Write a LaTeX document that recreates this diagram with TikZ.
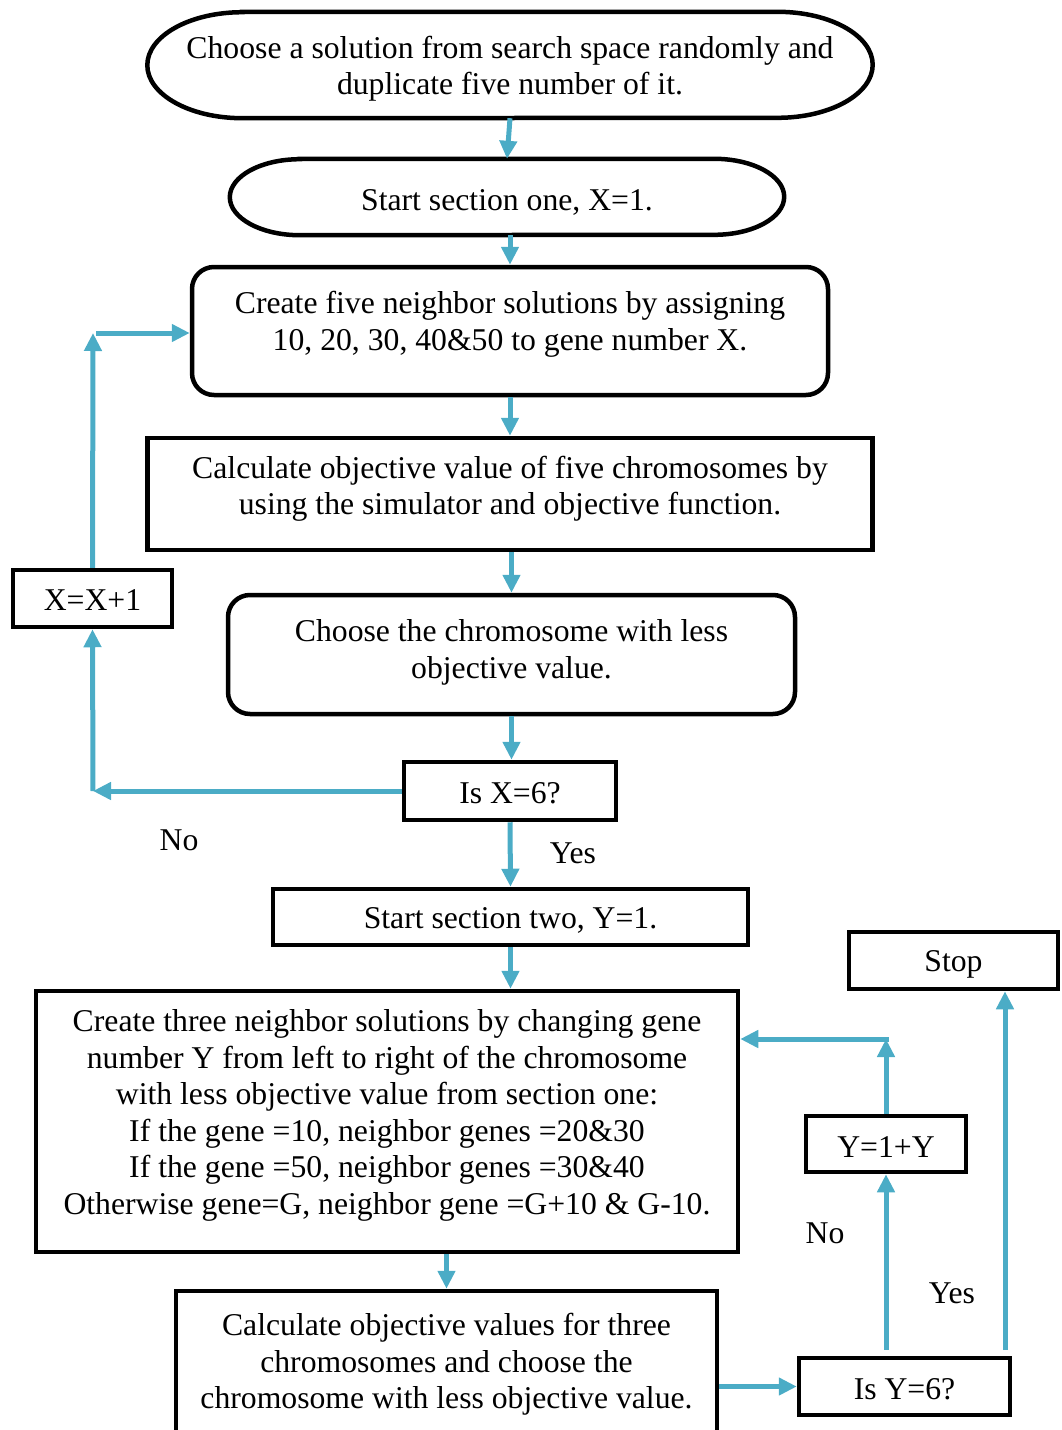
\documentclass[tikz,border=0pt]{standalone}
\usepackage{fontspec}
\setmainfont{Liberation Serif}
\usetikzlibrary{arrows.meta}
\definecolor{arrowblue}{HTML}{4BACC6}

\begin{document}
\begin{tikzpicture}[x=1pt, y=-1pt,
    box/.style={draw, line width=4.5pt, inner sep=0pt},
    rbox/.style={box, rounded corners=22pt},
    oval/.style={inner sep=0pt},
    ovalline/.style={line width=4.5pt},
    txt/.style={align=center, inner sep=0pt, font=\fontsize{31.7}{36.5}\selectfont},
    arr/.style={draw=arrowblue, line width=5pt, -{Triangle[length=18pt, width=17pt]}}]
    \useasboundingbox (0,0) rectangle (1062,1430);
    \clip (0,0) rectangle (1062,1430);
    % section one
    \node[oval, minimum width=725pt, minimum height=106pt] (choose) at (510,65) {};
    \draw[ovalline] ([xshift=95pt]choose.north west) -- ([xshift=-95pt]choose.north east)
        arc[start angle=90, end angle=-90, x radius=95pt, y radius=53pt]
        -- ([xshift=95pt]choose.south west)
        arc[start angle=270, end angle=90, x radius=95pt, y radius=53pt] -- cycle;
    \node[txt] (choose-t) at (510,68.5) {Choose a solution from search space randomly and\\duplicate five number of it.};
    \node[oval, minimum width=554pt, minimum height=76pt] (sec1) at (507,197) {};
    \draw[ovalline] ([xshift=70pt]sec1.north west) -- ([xshift=-70pt]sec1.north east)
        arc[start angle=90, end angle=-90, x radius=70pt, y radius=38pt]
        -- ([xshift=70pt]sec1.south west)
        arc[start angle=270, end angle=90, x radius=70pt, y radius=38pt] -- cycle;
    \node[txt] (sec1-t) at (507,202) {Start section one, X=1.};
    \node[rbox, minimum width=636pt, minimum height=128pt] (create1) at (510,331) {};
    \node[txt] (create1-t) at (510,324.5) {Create five neighbor solutions by assigning\\10, 20, 30, 40\&50 to gene number X.};
    \node[box, minimum width=725pt, minimum height=112pt] (calc1) at (510,494) {};
    \node[txt] (calc1-t) at (510,489) {Calculate objective value of five chromosomes by\\using the simulator and objective function.};
    \node[box, minimum width=159pt, minimum height=57pt] (xinc) at (92.5,598.5) {};
    \node[txt] (xinc-t) at (92.5,600.5) {X=X+1};
    \node[rbox, minimum width=567pt, minimum height=119pt] (less) at (511.5,654.5) {};
    \node[txt] (less-t) at (511.5,652.5) {Choose the chromosome with less\\objective value.};
    \node[box, minimum width=212pt, minimum height=58pt] (isx) at (510,791) {};
    \node[txt] (isx-t) at (510,793) {Is X=6?};
    \node[txt] (no1) at (179,840) {No};
    \node[txt] (yes1) at (573,853) {Yes};
    % section two
    \node[box, minimum width=475pt, minimum height=56pt] (sec2) at (510.5,917) {};
    \node[txt] (sec2-t) at (510.5,920) {Start section two, Y=1.};
    \node[box, minimum width=702pt, minimum height=261pt] (big) at (387,1121.5) {};
    \node[txt] (big-t) at (387,1115.5) {Create three neighbor solutions by changing gene\\number Y from left to right of the chromosome\\with less objective value from section one:\\If the gene =10, neighbor genes =20\&30\\If the gene =50, neighbor genes =30\&40\\Otherwise gene=G, neighbor gene =G+10 \& G-10.};
    \node[box, minimum width=209pt, minimum height=57pt] (stop) at (953.5,960.5) {};
    \node[txt] (stop-t) at (953.5,964) {Stop};
    \node[box, minimum width=160pt, minimum height=56pt] (yinc) at (886,1144) {};
    \node[txt] (yinc-t) at (886,1147) {Y=1+Y};
    \node[box, minimum width=541pt, minimum height=142pt] (calc2) at (446.5,1362) {};
    \node[txt] (calc2-t) at (446.5,1364.5) {Calculate objective values for three\\chromosomes and choose the\\chromosome with less objective value.};
    \node[box, minimum width=211pt, minimum height=57pt] (isy) at (904.5,1386.5) {};
    \node[txt] (isy-t) at (904.5,1389) {Is Y=6?};
    \node[txt] (no2) at (825,1233) {No};
    \node[txt] (yes2) at (952,1293) {Yes};
    % connectors
    \coordinate (c1) at (93,791);
    \coordinate (c2) at (93,333);
    \coordinate (c3) at (886,1039);
    \coordinate (c4) at (1005,1350);
    \draw[arr] (choose.south) -- (sec1.north);
    \draw[arr] (create1.north |- sec1.south) -- (create1.north);
    \draw[arr] (create1.south) -- (calc1.north);
    \draw[arr] (less.north |- calc1.south) -- (less.north);
    \draw[arr] (less.south) -- (less.south |- isx.north);
    \draw[arr] (isx.west) -- (c1);
    \draw[arr] (c1) -- (xinc.south);
    \draw[arr] (xinc.north) -- (c2);
    \draw[arr] ([xshift=3pt]c2) -- (c2 -| create1.west);
    \draw[arr] (isx.south) -- (sec2.north);
    \draw[arr] (sec2.south) -- (sec2.south |- big.north);
    \draw[arr] (calc2.north |- big.south) -- (calc2.north);
    \draw[arr] (calc2.east |- isy.west) -- (isy.west);
    \draw[arr] ([yshift=6pt]yinc.south |- isy.north) -- (yinc.south);
    \draw[arr] (yinc.north) -- (c3);
    \draw[arr] ([xshift=3pt]c3) -- (c3 -| big.east);
    \draw[arr] (c4) -- (c4 |- stop.south);
\end{tikzpicture}
\end{document}
